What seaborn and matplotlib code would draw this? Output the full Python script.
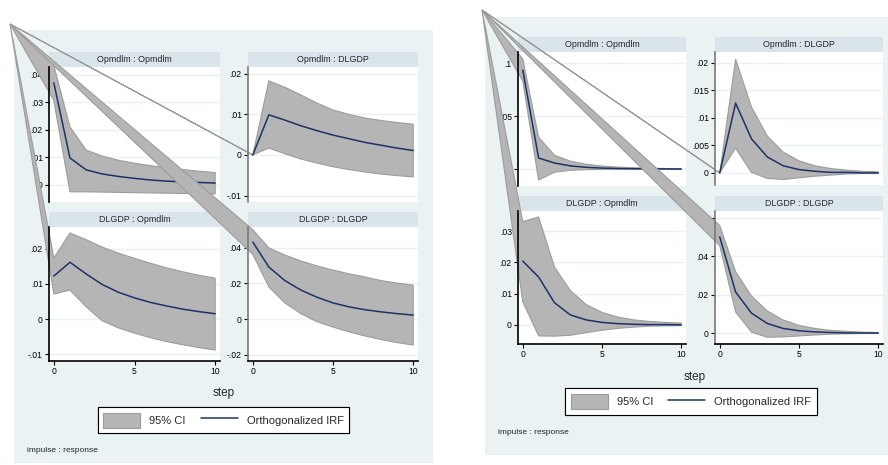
# Stata style IRF graphs (two models side by side) redrawn with seaborn
# note: the grey wedges from the top-left corner are part of the original picture

import numpy as np
import pandas as pd
import seaborn as sns
import matplotlib.pyplot as plt
from matplotlib.patches import Rectangle, Patch
from matplotlib.lines import Line2D

sns.set_theme(style='white')
plt.rcParams['font.family'] = ['Liberation Sans Narrow', 'Liberation Sans', 'DejaVu Sans']

steps = list(range(11))

# ---- model 1 (left graph) ----
m1_oo_irf = [0.0371, 0.0098, 0.0055, 0.0040, 0.0031, 0.0024, 0.0018, 0.0014, 0.0011, 0.0009, 0.0007]
m1_oo_lo = [0.0307, -0.0025, -0.0025, -0.0026, -0.0027, -0.0028, -0.0029, -0.0030, -0.0031, -0.0032, -0.0033]
m1_oo_hi = [0.0435, 0.0211, 0.0127, 0.0105, 0.0090, 0.0079, 0.0070, 0.0062, 0.0056, 0.0050, 0.0045]

m1_od_irf = [0, 0.0099, 0.0086, 0.0072, 0.0060, 0.0049, 0.0040, 0.0031, 0.0024, 0.0017, 0.0011]
m1_od_lo = [0, 0.0017, 0.0003, -0.0010, -0.0020, -0.0029, -0.0036, -0.0042, -0.0047, -0.0051, -0.0054]
m1_od_hi = [0, 0.0183, 0.0167, 0.0148, 0.0128, 0.0111, 0.0100, 0.0091, 0.0085, 0.0080, 0.0076]

m1_do_irf = [0.0122, 0.0161, 0.0128, 0.0098, 0.0076, 0.0060, 0.0047, 0.0037, 0.0028, 0.0021, 0.0015]
m1_do_lo = [0.0071, 0.0082, 0.0035, -0.0005, -0.0025, -0.0040, -0.0053, -0.0064, -0.0073, -0.0081, -0.0088]
m1_do_hi = [0.0173, 0.0244, 0.0225, 0.0204, 0.0187, 0.0172, 0.0158, 0.0145, 0.0134, 0.0124, 0.0116]

m1_dd_irf = [0.0431, 0.0291, 0.0215, 0.0162, 0.0122, 0.0090, 0.0068, 0.0052, 0.0040, 0.0030, 0.0022]
m1_dd_lo = [0.0362, 0.0180, 0.0090, 0.0030, -0.0015, -0.0045, -0.0072, -0.0095, -0.0115, -0.0132, -0.0146]
m1_dd_hi = [0.0500, 0.0398, 0.0358, 0.0325, 0.0297, 0.0274, 0.0253, 0.0235, 0.0215, 0.0201, 0.0190]

# ---- model 2 (right graph) ----
m2_oo_irf = [0.0934, 0.0104, 0.0057, 0.0030, 0.0016, 0.0009, 0.0005, 0.0003, 0.0002, 0.0001, 0.0000]
m2_oo_lo = [0.0830, -0.0104, -0.0030, -0.0012, -0.0006, -0.0003, -0.0002, -0.0001, -0.0001, 0.0000, 0.0000]
m2_oo_hi = [0.1040, 0.0300, 0.0130, 0.0075, 0.0045, 0.0028, 0.0018, 0.0012, 0.0008, 0.0005, 0.0003]

m2_od_irf = [0, 0.0127, 0.0062, 0.0029, 0.0013, 0.0006, 0.0003, 0.0001, 0.0001, 0.0000, 0.0000]
m2_od_lo = [0, 0.0045, 0.0001, -0.0010, -0.0012, -0.0009, -0.0006, -0.0004, -0.0002, -0.0001, -0.0001]
m2_od_hi = [0, 0.0207, 0.0120, 0.0067, 0.0038, 0.0022, 0.0013, 0.0008, 0.0005, 0.0003, 0.0002]

m2_do_irf = [0.0204, 0.0153, 0.0071, 0.0032, 0.0016, 0.0008, 0.0004, 0.0002, 0.0001, 0.0001, 0.0000]
m2_do_lo = [0.0074, -0.0035, -0.0036, -0.0033, -0.0025, -0.0017, -0.0011, -0.0007, -0.0004, -0.0003, -0.0002]
m2_do_hi = [0.0330, 0.0345, 0.0185, 0.0110, 0.0065, 0.0040, 0.0025, 0.0016, 0.0011, 0.0008, 0.0006]

m2_dd_irf = [0.0501, 0.0214, 0.0104, 0.0050, 0.0024, 0.0012, 0.0006, 0.0003, 0.0001, 0.0000, 0.0000]
m2_dd_lo = [0.0455, 0.0110, 0.0005, -0.0022, -0.0020, -0.0015, -0.0010, -0.0006, -0.0004, -0.0002, -0.0001]
m2_dd_hi = [0.0560, 0.0320, 0.0193, 0.0115, 0.0068, 0.0040, 0.0024, 0.0014, 0.0009, 0.0005, 0.0003]

# panel titles (impulse : response)
titles = ['Opmdlm : Opmdlm', 'Opmdlm : DLGDP', 'DLGDP : Opmdlm', 'DLGDP : DLGDP']

# y ticks per panel
m1_yticks = [[0, .01, .02, .03, .04], [-.01, 0, .01, .02], [-.01, 0, .01, .02], [-.02, 0, .02, .04]]
m1_ylabels = [['0', '.01', '.02', '.03', '.04'], ['-.01', '0', '.01', '.02'],
              ['-.01', '0', '.01', '.02'], ['-.02', '0', '.02', '.04']]
m2_yticks = [[0, .05, .1], [0, .005, .01, .015, .02], [0, .01, .02, .03], [0, .02, .04, .06]]
m2_ylabels = [['0', '.05', '.1'], ['0', '.005', '.01', '.015', '.02'],
              ['0', '.01', '.02', '.03'], ['0', '.02', '.04', '.06']]
x_ticks = [0, 5, 10]

# colours
bg_col = '#EAF2F3'
head_col = '#D9E5EA'
ci_col = '#b5b5b5'
ci_edge = '#9c9c9c'
navy = '#1c3366'

W, H = 888, 465


def fig_rect(x0, y0, x1, y1):
    # pixel box (top-left origin) -> figure fraction
    return [x0 / W, 1 - y1 / H, (x1 - x0) / W, (y1 - y0) / H]


def draw_panel(fig, box, title, irf, lo, hi, ylim, yticks, ylabels, apex, bottom, spine_col):
    x0, y0, x1, y1 = box
    hax = fig.add_axes(fig_rect(x0, y0 - 15, x1, y0))
    hax.set_facecolor(head_col)
    hax.set_xticks([])
    hax.set_yticks([])
    for s in hax.spines.values():
        s.set_visible(False)
    hax.text(0.5, 0.5, title, ha='center', va='center', fontsize=6.4, transform=hax.transAxes)

    ax = fig.add_axes(fig_rect(x0, y0, x1, y1))
    ax.set_facecolor('white')
    ax.set_xlim(-0.3, 10.3)
    ax.set_ylim(ylim)
    # the stata band polygon starts from the graph corner
    ax_x, ax_y = ax.transData.inverted().transform((apex[0], H - apex[1]))
    xs = [ax_x] + steps + steps[::-1]
    ys = [ax_y] + hi + lo[::-1]
    ax.fill(xs, ys, facecolor=ci_col, edgecolor=ci_edge, lw=0.8, clip_on=False, zorder=2)
    sns.lineplot(x=steps, y=irf, ax=ax, color=navy, lw=1.1, zorder=3)
    ax.set_xlim(-0.3, 10.3)
    ax.set_ylim(ylim)

    ax.set_yticks(yticks, labels=ylabels)
    ax.grid(axis='y', color=bg_col, lw=1)
    ax.set_axisbelow(True)
    ax.spines['top'].set_visible(False)
    ax.spines['right'].set_visible(False)
    ax.spines['left'].set_color(spine_col)
    ax.spines['left'].set_linewidth(1.2)
    if bottom:
        ax.set_xticks(x_ticks)
        ax.spines['bottom'].set_color('black')
        ax.spines['bottom'].set_linewidth(1.2)
    else:
        ax.set_xticks([])
        ax.spines['bottom'].set_visible(False)
    ax.tick_params(axis='both', direction='out', length=3, width=0.8, labelsize=6.2,
                   pad=1.5, left=True, bottom=bottom, colors='black')
    return ax


fig = plt.figure(figsize=(W / 100, H / 100), dpi=100)
fig.patch.set_facecolor('white')

# graph regions
fig.add_artist(Rectangle((14 / W, 1 - 463 / H), (433 - 14) / W, (463 - 30) / H,
                         transform=fig.transFigure, facecolor=bg_col, edgecolor='none', zorder=-1))
fig.add_artist(Rectangle((485 / W, 1 - 455 / H), (888 - 485) / W, (455 - 17) / H,
                         transform=fig.transFigure, facecolor=bg_col, edgecolor='none', zorder=-1))

# left graph
m1_data = [(m1_oo_irf, m1_oo_lo, m1_oo_hi), (m1_od_irf, m1_od_lo, m1_od_hi),
           (m1_do_irf, m1_do_lo, m1_do_hi), (m1_dd_irf, m1_dd_lo, m1_dd_hi)]
m1_boxes = [(49, 67, 220, 202), (248, 67, 418, 202), (49, 227, 220, 361), (248, 227, 418, 361)]
m1_ylims = [(-0.0062, 0.0429), (-0.0116, 0.0217), (-0.0119, 0.0261), (-0.0235, 0.0515)]
for i in range(4):
    irf, lo, hi = m1_data[i]
    draw_panel(fig, m1_boxes[i], titles[i], irf, lo, hi, m1_ylims[i], m1_yticks[i], m1_ylabels[i],
               (10, 24), i >= 2, 'black' if i % 2 == 0 else '#7a7a7a')

# right graph
m2_data = [(m2_oo_irf, m2_oo_lo, m2_oo_hi), (m2_od_irf, m2_od_lo, m2_od_hi),
           (m2_do_irf, m2_do_lo, m2_do_hi), (m2_dd_irf, m2_dd_lo, m2_dd_hi)]
m2_boxes = [(518, 52, 686, 186), (715, 52, 883, 185), (518, 211, 686, 344), (715, 211, 883, 344)]
m2_ylims = [(-0.016, 0.1104), (-0.0022, 0.0220), (-0.0061, 0.0364), (-0.0057, 0.0636)]
for i in range(4):
    irf, lo, hi = m2_data[i]
    draw_panel(fig, m2_boxes[i], titles[i], irf, lo, hi, m2_ylims[i], m2_yticks[i], m2_ylabels[i],
               (482, 10), i >= 2, 'black' if i % 2 == 0 else '#7a7a7a')

# axis title, legend and note
handles = [Patch(facecolor=ci_col, edgecolor=ci_edge, lw=0.8), Line2D([], [], color=navy, lw=1.1)]
leg_labels = ['95% CI', 'Orthogonalized IRF']
for sx, sy, lx, ly, nx, ny in [(224, 393, 223.5, 420, 27, 450), (695, 377, 691, 401.5, 498, 432)]:
    fig.text(sx / W, 1 - sy / H, 'step', ha='center', va='center', fontsize=8.5)
    leg = fig.legend(handles=handles, labels=leg_labels, ncol=2, loc='center',
                     bbox_to_anchor=(lx / W, 1 - ly / H), frameon=True, fancybox=False,
                     edgecolor='black', facecolor='white', framealpha=1, fontsize=8,
                     handlelength=3.3, handleheight=1.7, columnspacing=1.4, borderpad=0.5,
                     handletextpad=0.8)
    leg.get_frame().set_linewidth(0.8)
    fig.add_artist(leg)
    fig.text(nx / W, 1 - ny / H, 'impulse : response', ha='left', va='center', fontsize=6)

fig.savefig('out.png', dpi=100)
